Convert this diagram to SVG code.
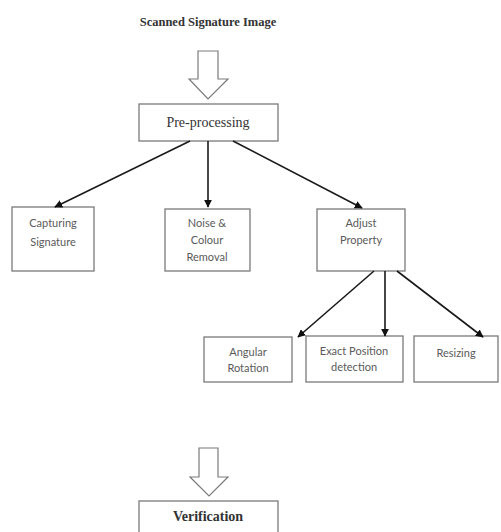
<svg xmlns="http://www.w3.org/2000/svg" width="501" height="532" viewBox="0 0 501 532">
<defs>
<marker id="ah" viewBox="0 0 10 10" refX="9" refY="5" markerWidth="8" markerHeight="8" markerUnits="userSpaceOnUse" orient="auto">
<path d="M0,0 L10,5 L0,10 z" fill="#111"/>
</marker>
</defs>
<style>
.box{fill:#fff;stroke:#7a7a7a;stroke-width:1.3}
.hollow{fill:#fff;stroke:#7a7a7a;stroke-width:1.2}
.t{font-family:Lato,"Open Sans",sans-serif;font-size:11px;fill:#5a5a5a;text-anchor:middle}
.s{font-family:"Liberation Serif",serif;fill:#333;text-anchor:middle}
.c{stroke:#1a1a1a;stroke-width:1.6;fill:none;marker-end:url(#ah)}
</style>
<rect width="501" height="532" fill="#fff"/>
<g id="title"><text class="s" x="208" y="26" font-size="12.5" font-weight="bold">Scanned Signature Image</text></g>
<g id="arrow-top"><polygon class="hollow" points="198,51 218,51 218,79 228,79 208,99 189,79 198,79"/></g>
<g id="preprocessing"><rect class="box" x="139" y="104" width="139" height="37"/><text class="s" x="208" y="127" font-size="14" fill="#444">Pre-processing</text></g>
<g id="capturing"><rect class="box" x="12" y="207" width="82" height="64"/><text class="t" x="53" y="227" font-size="11.5">Capturing</text><text class="t" x="53" y="246" font-size="11.5">Signature</text></g>
<g id="noise"><rect class="box" x="165" y="209" width="85" height="62"/><text class="t" x="207" y="227" font-size="10.5">Noise &amp;</text><text class="t" x="207" y="244" font-size="10.5">Colour</text><text class="t" x="207" y="261" font-size="10.5">Removal</text></g>
<g id="adjust"><rect class="box" x="317" y="209" width="88" height="62"/><text class="t" x="361" y="227" font-size="11.5">Adjust</text><text class="t" x="361" y="244" font-size="11.5">Property</text></g>
<g id="angular"><rect class="box" x="204" y="337" width="88" height="45"/><text class="t" x="248" y="356">Angular</text><text class="t" x="248" y="372">Rotation</text></g>
<g id="exact"><rect class="box" x="306" y="336" width="97" height="46"/><text class="t" x="354" y="355">Exact Position</text><text class="t" x="354" y="371">detection</text></g>
<g id="resizing"><rect class="box" x="414" y="336" width="84" height="46"/><text class="t" x="456" y="357" font-size="12">Resizing</text></g>
<g id="arrow-bottom"><polygon class="hollow" points="199,448 218,448 218,477 228,477 209,496 190,477 199,477"/></g>
<g id="verification"><rect class="box" x="139" y="501" width="139" height="40"/><text class="s" x="208" y="521" font-size="14" font-weight="bold">Verification</text></g>
<g id="connectors">
<line class="c" x1="190" y1="141" x2="55" y2="207"/>
<line class="c" x1="208" y1="141" x2="208" y2="207"/>
<line class="c" x1="233" y1="141" x2="362" y2="208"/>
<line class="c" x1="374" y1="271" x2="298" y2="337"/>
<line class="c" x1="385" y1="271" x2="385" y2="336"/>
<line class="c" x1="397" y1="271" x2="483" y2="337"/>
</g>
</svg>
